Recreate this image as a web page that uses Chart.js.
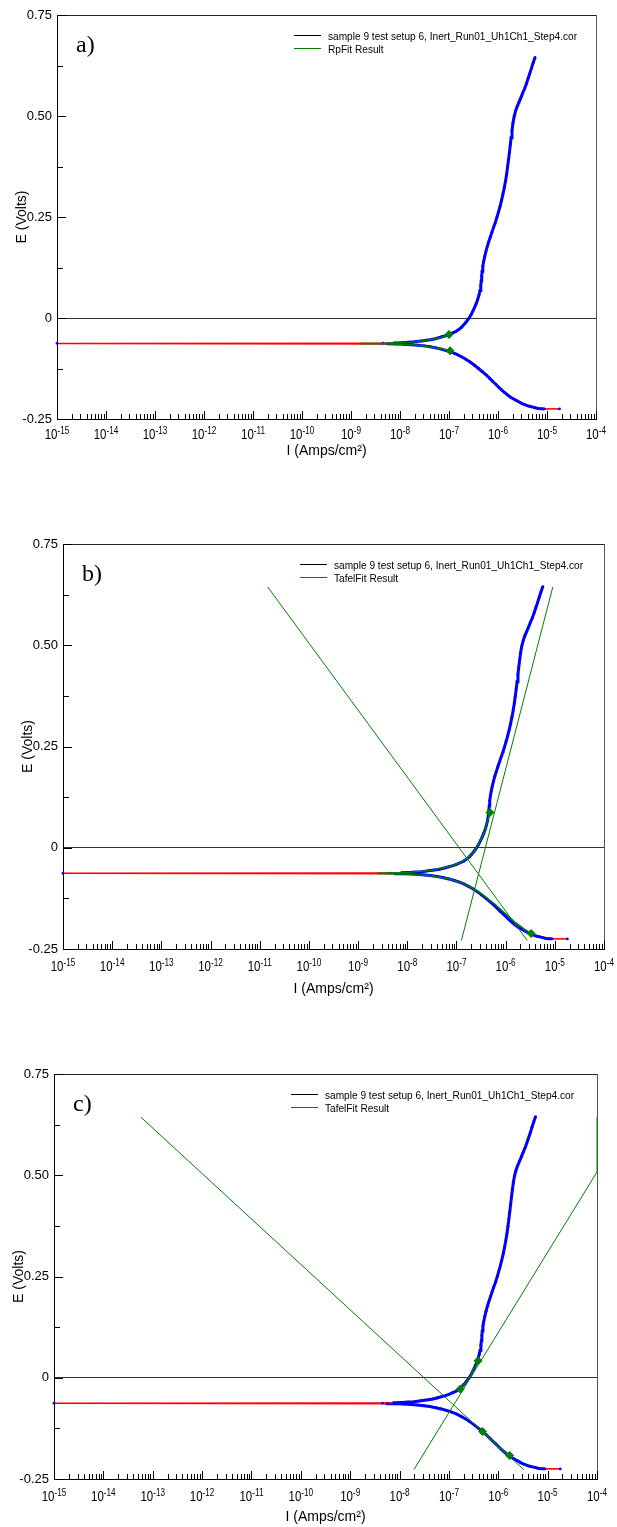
<!DOCTYPE html>
<html>
<head>
<meta charset="utf-8">
<script src="https://cdn.jsdelivr.net/npm/chart.js@4.4.1/dist/chart.umd.min.js"></script>
<style>
  body { margin: 0; background: #fff; }
  #page { position: relative; width: 617px; height: 1527px; }
  canvas { position: absolute; left: 0; }
</style>
</head>
<body>
<div id="page">
  <canvas id="panelA" width="617" height="480" style="top:0px"></canvas>
  <canvas id="panelB" width="617" height="520" style="top:490px"></canvas>
  <canvas id="panelC" width="617" height="507" style="top:1020px"></canvas>
</div>
<script>
// ---- axis ticks ----
const xDecadeExp = [-15, -14, -13, -12, -11, -10, -9, -8, -7, -6, -5, -4];
const xMinorMant = [2, 3, 4, 5, 6, 7, 8, 9];
const yMajor = [-0.25, 0, 0.25, 0.5, 0.75];
const yMajorLabels = ['-0.25', '0', '0.25', '0.50', '0.75'];
const yMinor = [-0.125, 0.125, 0.375, 0.625];

// ---- measured scan (same in all three panels), in scan order ----
// cathodic branch, from the cathodic end up to Ecorr
const cathI = [1.8e-5, 8.8e-6, 7.6e-6, 6.6e-6, 5.7e-6, 4.9e-6, 4.2e-6, 3.6e-6, 3.1e-6, 2.7e-6,
  2.35e-6, 2.05e-6, 1.8e-6, 1.55e-6, 1.35e-6, 1.18e-6, 1.03e-6, 9e-7, 7.8e-7, 6.7e-7,
  5.7e-7, 4.8e-7, 4.0e-7, 3.3e-7, 2.7e-7, 2.2e-7, 1.8e-7, 1.45e-7, 1.15e-7, 9e-8,
  7e-8, 5.4e-8, 4.1e-8, 3.1e-8, 2.3e-8, 1.7e-8, 1.2e-8, 8.5e-9, 5.5e-9];
const cathE = [-0.225, -0.225, -0.2245, -0.224, -0.222, -0.220, -0.218, -0.215, -0.212, -0.208,
  -0.204, -0.200, -0.196, -0.190, -0.184, -0.178, -0.171, -0.164, -0.157, -0.149,
  -0.141, -0.133, -0.125, -0.117, -0.109, -0.102, -0.096, -0.090, -0.085, -0.081,
  -0.077, -0.074, -0.071, -0.069, -0.0675, -0.066, -0.065, -0.0645, -0.064];
// point where the current crosses zero
const restI = [1e-15];
const restE = [-0.063];
// anodic branch
const anodI = [4.5e-9, 7.5e-9, 1.1e-8, 1.5e-8, 2e-8, 2.7e-8, 3.5e-8, 4.5e-8, 5.7e-8, 7e-8,
  8.5e-8, 1e-7, 1.2e-7, 1.4e-7, 1.6e-7, 1.8e-7, 2e-7, 2.2e-7, 2.4e-7, 2.6e-7,
  2.85e-7, 3.1e-7, 3.35e-7, 3.6e-7, 3.85e-7, 4.1e-7, 4.3e-7, 4.45e-7, 4.55e-7, 4.65e-7,
  4.75e-7, 4.9e-7, 5.1e-7, 5.35e-7, 5.65e-7, 6e-7, 6.45e-7, 6.95e-7, 7.5e-7, 8.1e-7,
  8.8e-7, 9.5e-7, 1.02e-6, 1.1e-6, 1.18e-6, 1.26e-6, 1.34e-6, 1.42e-6, 1.5e-6, 1.57e-6,
  1.64e-6, 1.71e-6, 1.78e-6, 1.85e-6, 1.93e-6, 2.02e-6, 2.13e-6, 2.28e-6, 2.47e-6, 2.7e-6,
  2.95e-6, 3.2e-6, 3.5e-6, 3.8e-6, 4.1e-6, 4.45e-6, 4.8e-6, 5.2e-6, 5.7e-6];
const anodE = [-0.0625, -0.062, -0.061, -0.060, -0.059, -0.057, -0.055, -0.053, -0.050, -0.047,
  -0.044, -0.041, -0.037, -0.033, -0.028, -0.023, -0.017, -0.011, -0.005, 0.001,
  0.009, 0.018, 0.027, 0.036, 0.046, 0.057, 0.068, 0.080, 0.092, 0.104,
  0.116, 0.128, 0.140, 0.152, 0.164, 0.176, 0.188, 0.200, 0.212, 0.224,
  0.236, 0.249, 0.262, 0.276, 0.291, 0.306, 0.322, 0.338, 0.356, 0.374,
  0.392, 0.410, 0.428, 0.446, 0.464, 0.482, 0.498, 0.512, 0.524, 0.535,
  0.546, 0.557, 0.568, 0.580, 0.592, 0.605, 0.618, 0.631, 0.645];

// ---- a) RpFit ----
const rpUpI = [1.6e-9, 5e-9, 1e-8, 2e-8, 4e-8, 7e-8, 1e-7];
const rpUpE = [-0.063, -0.0625, -0.061, -0.059, -0.054, -0.048, -0.041];
const rpLoI = [1.6e-9, 5e-9, 1e-8, 2e-8, 4e-8, 7e-8, 1.05e-7];
const rpLoE = [-0.063, -0.064, -0.065, -0.067, -0.071, -0.076, -0.081];
const rpMarkI = [1e-7, 1.05e-7];
const rpMarkE = [-0.041, -0.081];

// ---- b) TafelFit ----
const tbCathI = [1.45e-11, 2.75e-6];
const tbCathE = [0.644, -0.229];
const tbAnodI = [1.26e-7, 9.1e-6];
const tbAnodE = [-0.229, 0.644];
const tbUpI = [2.5e-9, 1e-8, 3e-8, 7e-8, 1.2e-7, 1.8e-7, 2.4e-7, 3e-7, 3.6e-7, 4.2e-7, 4.8e-7];
const tbUpE = [-0.063, -0.061, -0.056, -0.047, -0.037, -0.022, -0.005, 0.015, 0.036, 0.062, 0.087];
const tbLoI = [2.5e-9, 1e-8, 3e-8, 7e-8, 1.5e-7, 3e-7, 6e-7, 1e-6, 1.6e-6, 2.4e-6, 3.3e-6];
const tbLoE = [-0.064, -0.065, -0.069, -0.077, -0.090, -0.111, -0.139, -0.163, -0.185, -0.201, -0.212];
const tbMarkI = [4.8e-7, 3.3e-6];
const tbMarkE = [0.087, -0.212];

// ---- c) TafelFit ----
const tcCathI = [5.8e-14, 3.3e-6];
const tcCathE = [0.643, -0.227];
const tcAnodI = [1.95e-8, 1e-4, 1e-4];
const tcAnodE = [-0.227, 0.508, 0.643];
const tcUpI = [1.7e-7, 2.2e-7, 2.6e-7, 3.1e-7, 3.5e-7, 3.9e-7];
const tcUpE = [-0.028, -0.012, 0.0, 0.018, 0.031, 0.042];
const tcLoI = [4.8e-7, 6.5e-7, 9e-7, 1.2e-6, 1.7e-6];
const tcLoE = [-0.133, -0.148, -0.164, -0.179, -0.192];
const tcMarkI = [1.7e-7, 3.9e-7, 4.8e-7, 1.7e-6];
const tcMarkE = [-0.028, 0.042, -0.133, -0.192];

const dataLabel = 'sample 9 test setup 6, Inert_Run01_Uh1Ch1_Step4.cor';
const xTitle = 'I (Amps/cm\u00B2)';
const yTitle = 'E (Volts)';

const SANS = "'Liberation Sans', Arial, sans-serif";
const GREEN = '#008000';
const XS = 0.82; // horizontal squeeze of the decade labels
Chart.defaults.font.family = SANS;
Chart.defaults.color = '#000';

function pts(I, E) {
  return I.map((x, i) => ({ x: x, y: E[i] }));
}

function xTickList() {
  const list = [];
  xDecadeExp.forEach((e, i) => {
    const d = Math.pow(10, e);
    list.push({ value: d, major: true });
    if (i < xDecadeExp.length - 1) {
      xMinorMant.forEach(m => list.push({ value: m * d, major: false }));
    }
  });
  return list;
}

function yTickList() {
  const list = [];
  yMajor.forEach((v, i) => list.push({ value: v, major: true, txt: yMajorLabels[i] }));
  yMinor.forEach(v => list.push({ value: v, major: false, txt: '' }));
  return list.sort((a, b) => a.value - b.value);
}

function segLen(c) {
  return Math.hypot(c.p1.x - c.p0.x, c.p1.y - c.p0.y);
}

// short tick marks pointing into the plot
const innerTicks = {
  id: 'innerTicks',
  beforeDatasetsDraw(chart) {
    const { ctx, chartArea: a, scales } = chart;
    ctx.save();
    ctx.strokeStyle = '#000';
    ctx.lineWidth = 1;
    ctx.beginPath();
    scales.x.ticks.forEach(t => {
      const px = Math.round(scales.x.getPixelForValue(t.value)) + 0.5;
      ctx.moveTo(px, a.bottom);
      ctx.lineTo(px, a.bottom - (t.major ? 8 : 5));
    });
    scales.y.ticks.forEach(t => {
      const py = Math.round(scales.y.getPixelForValue(t.value)) + 0.5;
      ctx.moveTo(a.left, py);
      ctx.lineTo(a.left + (t.major ? 9 : 6), py);
    });
    ctx.stroke();
    ctx.restore();
  }
};

// decade labels 10^n under the x axis (base plus raised exponent)
const decadeLabels = {
  id: 'decadeLabels',
  afterDraw(chart, args, opts) {
    const { ctx, chartArea: a, scales: { x } } = chart;
    ctx.save();
    ctx.fillStyle = '#000';
    ctx.textBaseline = 'alphabetic';
    xDecadeExp.forEach(e => {
      const px = x.getPixelForValue(Math.pow(10, e));
      const ex = String(e);
      ctx.font = '14px ' + SANS;
      const w1 = ctx.measureText('10').width * XS;
      ctx.font = '10px ' + SANS;
      const w2 = ctx.measureText(ex).width * XS;
      const left = px - (w1 + w2) / 2;
      const base = a.bottom + opts.base;
      ctx.save();
      ctx.translate(left, base);
      ctx.scale(XS, 1);
      ctx.font = '14px ' + SANS;
      ctx.fillText('10', 0, 0);
      ctx.restore();
      ctx.save();
      ctx.translate(left + w1, base - 5);
      ctx.scale(XS, 1);
      ctx.font = '10px ' + SANS;
      ctx.fillText(ex, 0, 0);
      ctx.restore();
    });
    ctx.restore();
  }
};

// panel letter and the in-plot legend
const panelText = {
  id: 'panelText',
  afterDraw(chart, args, opts) {
    const { ctx, chartArea: a } = chart;
    ctx.save();
    ctx.fillStyle = '#000';
    ctx.font = "24px 'Liberation Serif', 'Times New Roman', serif";
    ctx.textBaseline = 'alphabetic';
    ctx.fillText(opts.letter, a.left + 19, a.top + 37);

    ctx.font = '11px ' + SANS;
    const sx = Math.min(1, 249 / ctx.measureText(opts.legend[0].text).width);
    opts.legend.forEach((item, i) => {
      const y = Math.round(a.top + 20 + i * 13) + 0.5;
      ctx.strokeStyle = item.color;
      ctx.lineWidth = 1;
      ctx.beginPath();
      ctx.moveTo(a.left + 237, y);
      ctx.lineTo(a.left + 264, y);
      ctx.stroke();
      ctx.save();
      ctx.translate(a.left + 271, y + 1);
      ctx.scale(sx, 1);
      ctx.textBaseline = 'middle';
      ctx.fillText(item.text, 0, 0);
      ctx.restore();
    });
    ctx.restore();
  }
};

function makePanel(id, p) {
  const sets = [];
  sets.push({ data: pts(p.markI, p.markE), pointStyle: 'rectRot', pointRadius: 4.5,
    pointBackgroundColor: GREEN, pointBorderWidth: 0, showLine: false });
  p.fits.forEach(f => sets.push({ data: pts(f[0], f[1]), showLine: true, borderColor: GREEN,
    borderWidth: 1.4, pointRadius: 0 }));
  p.lines.forEach(f => sets.push({ data: pts(f[0], f[1]), showLine: true, borderColor: GREEN,
    borderWidth: 1, pointRadius: 0 }));
  sets.push({
    label: dataLabel,
    data: pts(cathI.concat(restI, anodI), cathE.concat(restE, anodE)),
    showLine: true,
    borderColor: '#0000ff',
    borderWidth: 3,
    pointRadius: 1.4,
    pointBackgroundColor: '#0000ff',
    pointBorderWidth: 0,
    segment: {
      borderColor: c => segLen(c) > 10 ? '#ff0000' : '#0000ff',
      borderWidth: c => segLen(c) > 10 ? 1.6 : 3
    }
  });
  sets.forEach(s => { s.clip = 3; s.tension = 0; });

  const H = p.canvasH;
  return new Chart(document.getElementById(id), {
    type: 'scatter',
    data: { datasets: sets },
    options: {
      responsive: false,
      animation: false,
      devicePixelRatio: 1,
      layout: { padding: { left: 0, top: p.top - p.canvasTop, right: 617 - p.right, bottom: 0 } },
      plugins: {
        legend: { display: false },
        tooltip: { enabled: false },
        decadeLabels: { base: p.xLabelBase },
        panelText: { letter: p.letter, legend: [
          { text: dataLabel, color: '#000' },
          { text: p.fitName, color: GREEN }
        ] }
      },
      scales: {
        x: {
          type: 'logarithmic',
          min: 1e-15,
          max: 1e-4,
          afterBuildTicks: s => { s.ticks = xTickList(); },
          afterFit: s => { s.height = p.canvasTop + H - p.bottom; },
          ticks: { display: false },
          grid: {
            drawTicks: false,
            lineWidth: 1,
            color: c => (c.tick && c.tick.value > 9.9e-5) ? '#555' : 'rgba(0,0,0,0)'
          },
          border: { display: true, color: '#000', width: 1 },
          title: {
            display: true, text: xTitle, color: '#000',
            font: { size: 14 },
            padding: { top: 0, bottom: p.canvasTop + H - (p.bottom + p.xTitleGap) - 8.4 }
          }
        },
        y: {
          min: -0.25,
          max: 0.75,
          afterBuildTicks: s => { s.ticks = yTickList(); },
          afterFit: s => { s.width = p.left; },
          ticks: {
            autoSkip: false,
            padding: 5,
            font: { size: 13 },
            color: '#000',
            callback: (v, i, ticks) => ticks[i].txt
          },
          grid: {
            drawTicks: false,
            lineWidth: 1,
            color: c => {
              if (!c.tick) return 'rgba(0,0,0,0)';
              if (c.tick.value === 0) return '#333';
              if (c.tick.value === 0.75) return '#222';
              return 'rgba(0,0,0,0)';
            }
          },
          border: { display: true, color: '#000', width: 1 },
          title: {
            display: true, text: yTitle, color: '#000',
            font: { size: 14 },
            padding: { top: p.left - 35 - 8.4, bottom: 0 }
          }
        }
      }
    },
    plugins: [innerTicks, decadeLabels, panelText]
  });
}

makePanel('panelA', {
  canvasTop: 0, canvasH: 480, top: 15, bottom: 419, left: 57, right: 596,
  xLabelBase: 20, xTitleGap: 32, letter: 'a)', fitName: 'RpFit Result',
  markI: rpMarkI, markE: rpMarkE,
  fits: [[rpUpI, rpUpE], [rpLoI, rpLoE]],
  lines: []
});

makePanel('panelB', {
  canvasTop: 490, canvasH: 520, top: 544, bottom: 949, left: 63, right: 604,
  xLabelBase: 22, xTitleGap: 40, letter: 'b)', fitName: 'TafelFit Result',
  markI: tbMarkI, markE: tbMarkE,
  fits: [[tbUpI, tbUpE], [tbLoI, tbLoE]],
  lines: [[tbCathI, tbCathE], [tbAnodI, tbAnodE]]
});

makePanel('panelC', {
  canvasTop: 1020, canvasH: 507, top: 1074, bottom: 1479, left: 54, right: 597,
  xLabelBase: 22, xTitleGap: 38, letter: 'c)', fitName: 'TafelFit Result',
  markI: tcMarkI, markE: tcMarkE,
  fits: [[tcUpI, tcUpE], [tcLoI, tcLoE]],
  lines: [[tcCathI, tcCathE], [tcAnodI, tcAnodE]]
});
</script>
</body>
</html>
